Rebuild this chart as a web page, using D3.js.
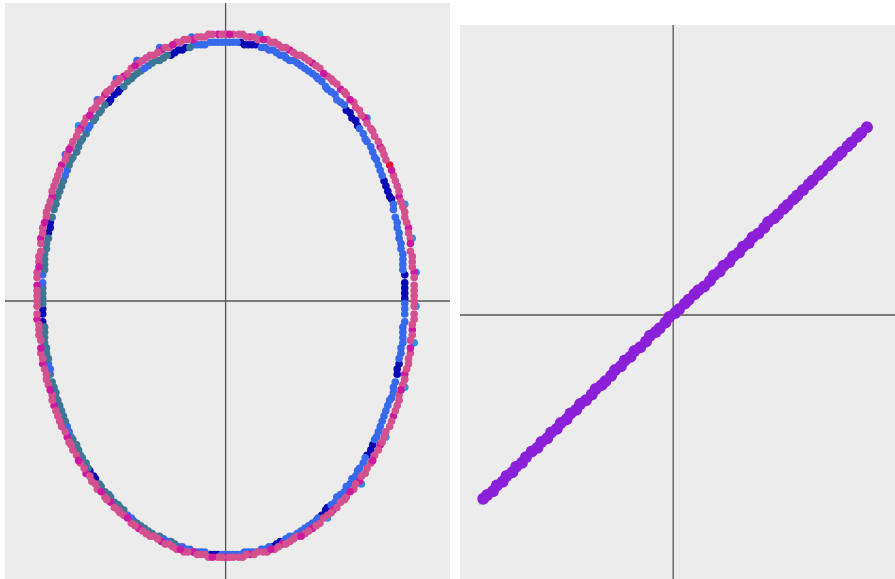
<!DOCTYPE html>
<html>
<head>
<meta charset="utf-8">
<script src="https://cdn.jsdelivr.net/npm/d3@7"></script>
<style>
  body { margin: 0; background: #fff; }
</style>
</head>
<body>
<div id="chart"></div>
<script>
// series names and colours (index = 3rd value of each point)
var seriesNames = ["pink", "magenta", "red", "sky", "royal", "steel", "navy"];
var seriesColors = ["#d4508e", "#cc1aa0", "#e8112d", "#2a92ea", "#3769eb", "#3c7896", "#0a0ab4"];

// left plot: outer ring [x, y, series]
var outerRingA = [
  [1.00,0.02,0],[1.00,0.06,0],[1.00,0.11,1],[0.99,0.15,0],[0.98,0.19,0],[0.98,0.24,0],[0.97,0.28,1],[0.95,0.32,0],[0.94,0.36,0],[0.92,0.40,1],
  [0.91,0.44,0],[0.89,0.48,0],[0.87,0.52,2],[0.84,0.56,0],[0.82,0.59,1],[0.79,0.63,0],[0.77,0.66,0],[0.74,0.70,1],[0.71,0.73,0],[0.68,0.76,0],
  [0.64,0.79,0],[0.61,0.81,1],[0.57,0.84,0],[0.54,0.86,0],[0.50,0.89,0],[0.46,0.91,1],[0.42,0.93,0],[0.38,0.94,0],[0.34,0.96,1],[0.30,0.97,0],
  [0.26,0.99,0],[0.22,1.00,0],[0.17,1.00,0],[0.13,1.01,1],[0.09,1.02,0],[0.04,1.02,0],
  [0.00,1.02,0],[-0.04,1.02,1],[-0.09,1.02,0],[-0.13,1.01,0],[-0.17,1.00,1],[-0.22,1.00,0],[-0.26,0.99,0],[-0.30,0.97,0],[-0.34,0.96,1],[-0.38,0.94,0],
  [-0.42,0.93,0],[-0.46,0.91,0],[-0.50,0.89,0],[-0.54,0.86,1],[-0.57,0.84,0],[-0.61,0.81,0],[-0.64,0.79,1],[-0.68,0.76,0],[-0.71,0.73,0],[-0.74,0.70,0],
  [-0.77,0.66,1],[-0.79,0.63,0],[-0.82,0.59,0],[-0.84,0.56,0],[-0.87,0.52,1],[-0.89,0.48,0],[-0.91,0.44,0],[-0.92,0.40,1],[-0.94,0.36,0],[-0.95,0.32,0],
  [-0.97,0.28,0],[-0.98,0.24,1],[-0.98,0.19,0],[-0.99,0.15,0],[-1.00,0.11,0],[-1.00,0.06,1],
  [-1.00,0.02,0],[-1.00,-0.02,0],[-1.00,-0.07,1],[-0.99,-0.11,0],[-0.98,-0.15,0],[-0.98,-0.20,0],[-0.97,-0.24,1],[-0.95,-0.28,0],[-0.94,-0.32,0],[-0.92,-0.36,0],
  [-0.91,-0.40,1],[-0.89,-0.44,0],[-0.87,-0.48,0],[-0.84,-0.52,1],[-0.82,-0.55,0],[-0.79,-0.59,0],[-0.77,-0.62,0],[-0.74,-0.66,1],[-0.71,-0.69,0],[-0.68,-0.72,0],
  [-0.64,-0.75,0],[-0.61,-0.77,1],[-0.57,-0.80,0],[-0.54,-0.82,0],[-0.50,-0.85,0],[-0.46,-0.87,1],[-0.42,-0.89,0],[-0.38,-0.90,0],[-0.34,-0.92,1],[-0.30,-0.93,0],
  [-0.26,-0.95,0],[-0.22,-0.96,0],[-0.17,-0.96,1],[-0.13,-0.97,0],[-0.09,-0.98,0],[-0.04,-0.98,0],
  [0.00,-0.98,1],[0.04,-0.98,0],[0.09,-0.98,0],[0.13,-0.97,1],[0.17,-0.96,0],[0.22,-0.96,0],[0.26,-0.95,0],[0.30,-0.93,1],[0.34,-0.92,0],[0.38,-0.90,0],
  [0.42,-0.89,0],[0.46,-0.87,1],[0.50,-0.85,0],[0.54,-0.82,0],[0.57,-0.80,1],[0.61,-0.77,0],[0.64,-0.75,0],[0.68,-0.72,0],[0.71,-0.69,1],[0.74,-0.66,0],
  [0.77,-0.62,0],[0.79,-0.59,0],[0.82,-0.55,1],[0.84,-0.52,0],[0.87,-0.48,0],[0.89,-0.44,1],[0.91,-0.40,0],[0.92,-0.36,0],[0.94,-0.32,0],[0.95,-0.28,1],
  [0.97,-0.24,0],[0.98,-0.20,0],[0.98,-0.15,0],[0.99,-0.11,1],[1.00,-0.07,0],[1.00,-0.02,0]
];
var outerRingB = [
  [1.00,0.04,0],[1.00,0.09,0],[0.99,0.13,0],[0.99,0.17,0],[0.98,0.22,1],[0.97,0.26,0],[0.96,0.30,0],[0.95,0.34,0],[0.93,0.38,0],[0.92,0.42,0],
  [0.90,0.46,0],[0.88,0.50,1],[0.85,0.54,0],[0.83,0.58,0],[0.81,0.61,0],[0.78,0.65,0],[0.75,0.68,0],[0.72,0.71,0],[0.69,0.74,0],[0.66,0.77,1],
  [0.63,0.80,0],[0.59,0.83,0],[0.56,0.85,0],[0.52,0.87,1],[0.48,0.90,0],[0.44,0.92,0],[0.40,0.94,0],[0.36,0.95,0],[0.32,0.97,0],[0.28,0.98,0],
  [0.24,0.99,0],[0.20,1.00,1],[0.15,1.01,0],[0.11,1.01,0],[0.07,1.02,0],[0.02,1.02,1],
  [-0.02,1.02,0],[-0.07,1.02,0],[-0.11,1.01,0],[-0.15,1.01,0],[-0.20,1.00,0],[-0.24,0.99,0],[-0.28,0.98,1],[-0.32,0.97,0],[-0.36,0.95,0],[-0.40,0.94,0],
  [-0.44,0.92,0],[-0.48,0.90,1],[-0.52,0.87,0],[-0.56,0.85,0],[-0.59,0.83,0],[-0.63,0.80,0],[-0.66,0.77,0],[-0.69,0.74,0],[-0.72,0.71,1],[-0.75,0.68,0],
  [-0.78,0.65,0],[-0.81,0.61,0],[-0.83,0.58,1],[-0.85,0.54,0],[-0.88,0.50,0],[-0.90,0.46,0],[-0.92,0.42,0],[-0.93,0.38,0],[-0.95,0.34,0],[-0.96,0.30,1],
  [-0.97,0.26,0],[-0.98,0.22,0],[-0.99,0.17,0],[-0.99,0.13,1],[-1.00,0.09,0],[-1.00,0.04,0],
  [-1.00,0.00,0],[-1.00,-0.05,0],[-0.99,-0.09,0],[-0.99,-0.13,0],[-0.98,-0.18,1],[-0.97,-0.22,0],[-0.96,-0.26,0],[-0.95,-0.30,0],[-0.93,-0.34,1],[-0.92,-0.38,0],
  [-0.90,-0.42,0],[-0.88,-0.46,0],[-0.85,-0.50,0],[-0.83,-0.54,0],[-0.81,-0.57,0],[-0.78,-0.61,1],[-0.75,-0.64,0],[-0.72,-0.67,0],[-0.69,-0.70,0],[-0.66,-0.73,1],
  [-0.63,-0.76,0],[-0.59,-0.79,0],[-0.56,-0.81,0],[-0.52,-0.83,1],[-0.48,-0.86,0],[-0.44,-0.88,0],[-0.40,-0.90,0],[-0.36,-0.91,0],[-0.32,-0.93,0],[-0.28,-0.94,0],
  [-0.24,-0.95,1],[-0.20,-0.96,0],[-0.15,-0.97,0],[-0.11,-0.97,0],[-0.07,-0.98,1],[-0.02,-0.98,0],
  [0.02,-0.98,0],[0.07,-0.98,0],[0.11,-0.97,0],[0.15,-0.97,0],[0.20,-0.96,0],[0.24,-0.95,1],[0.28,-0.94,0],[0.32,-0.93,0],[0.36,-0.91,0],[0.40,-0.90,1],
  [0.44,-0.88,0],[0.48,-0.86,0],[0.52,-0.83,0],[0.56,-0.81,0],[0.59,-0.79,0],[0.63,-0.76,0],[0.66,-0.73,1],[0.69,-0.70,0],[0.72,-0.67,0],[0.75,-0.64,0],
  [0.78,-0.61,1],[0.81,-0.57,0],[0.83,-0.54,0],[0.85,-0.50,0],[0.88,-0.46,0],[0.90,-0.42,0],[0.92,-0.38,0],[0.93,-0.34,1],[0.95,-0.30,0],[0.96,-0.26,0],
  [0.97,-0.22,0],[0.98,-0.18,1],[0.99,-0.13,0],[0.99,-0.09,0],[1.00,-0.05,0],[1.00,0.00,0]
];

// left plot: inner ring [x, y, series]
var innerRingA = [
  [0.95,0.01,6],[0.95,0.05,6],[0.95,0.10,6],[0.94,0.14,4],[0.94,0.18,4],[0.93,0.22,4],[0.92,0.26,4],[0.91,0.30,4],[0.89,0.35,4],[0.88,0.39,6],
  [0.86,0.42,6],[0.84,0.46,6],[0.82,0.50,4],[0.80,0.54,4],[0.78,0.57,4],[0.75,0.61,4],[0.73,0.64,4],[0.70,0.67,6],[0.67,0.70,6],[0.64,0.73,6],
  [0.61,0.76,4],[0.58,0.79,4],[0.54,0.81,4],[0.51,0.84,4],[0.48,0.86,4],[0.44,0.88,4],[0.40,0.90,4],[0.36,0.92,4],[0.32,0.93,4],[0.29,0.94,4],
  [0.25,0.96,4],[0.21,0.97,4],[0.16,0.98,6],[0.12,0.98,6],[0.08,0.99,6],[0.04,0.99,4],
  [0.00,0.99,4],[-0.04,0.99,4],[-0.08,0.99,4],[-0.13,0.98,4],[-0.17,0.98,4],[-0.21,0.97,6],[-0.25,0.96,6],[-0.29,0.94,6],[-0.33,0.93,5],[-0.37,0.92,5],
  [-0.41,0.90,4],[-0.45,0.88,5],[-0.49,0.86,5],[-0.52,0.84,5],[-0.56,0.81,6],[-0.59,0.79,6],[-0.62,0.76,6],[-0.66,0.73,5],[-0.69,0.70,5],[-0.72,0.67,4],
  [-0.74,0.64,5],[-0.77,0.61,5],[-0.79,0.57,5],[-0.82,0.54,5],[-0.84,0.50,4],[-0.86,0.46,5],[-0.88,0.42,5],[-0.90,0.39,5],[-0.91,0.35,5],[-0.93,0.30,6],
  [-0.94,0.26,6],[-0.95,0.22,5],[-0.96,0.18,5],[-0.96,0.14,5],[-0.97,0.10,4],[-0.97,0.05,5],
  [-0.97,0.01,5],[-0.97,-0.03,6],[-0.97,-0.08,6],[-0.96,-0.12,5],[-0.96,-0.16,5],[-0.95,-0.20,5],[-0.94,-0.24,4],[-0.93,-0.28,5],[-0.91,-0.33,5],[-0.90,-0.37,5],
  [-0.88,-0.40,5],[-0.86,-0.44,5],[-0.84,-0.48,4],[-0.82,-0.52,5],[-0.79,-0.55,5],[-0.77,-0.59,5],[-0.74,-0.62,5],[-0.72,-0.65,6],[-0.69,-0.68,6],[-0.66,-0.71,5],
  [-0.62,-0.74,5],[-0.59,-0.77,5],[-0.56,-0.79,5],[-0.52,-0.82,4],[-0.49,-0.84,5],[-0.45,-0.86,5],[-0.41,-0.88,5],[-0.37,-0.90,5],[-0.33,-0.91,4],[-0.29,-0.92,5],
  [-0.25,-0.94,4],[-0.21,-0.95,4],[-0.17,-0.96,4],[-0.13,-0.96,4],[-0.08,-0.97,6],[-0.04,-0.97,6],
  [0.00,-0.97,4],[0.04,-0.97,4],[0.08,-0.97,4],[0.12,-0.96,4],[0.16,-0.96,4],[0.21,-0.95,4],[0.25,-0.94,6],[0.29,-0.92,6],[0.32,-0.91,4],[0.36,-0.90,4],
  [0.40,-0.88,4],[0.44,-0.86,4],[0.48,-0.84,4],[0.51,-0.82,6],[0.54,-0.79,6],[0.58,-0.77,4],[0.61,-0.74,4],[0.64,-0.71,4],[0.67,-0.68,4],[0.70,-0.65,4],
  [0.73,-0.62,4],[0.75,-0.59,6],[0.78,-0.55,6],[0.80,-0.52,4],[0.82,-0.48,4],[0.84,-0.44,4],[0.86,-0.40,4],[0.88,-0.37,4],[0.89,-0.33,4],[0.91,-0.28,6],
  [0.92,-0.24,6],[0.93,-0.20,4],[0.94,-0.16,4],[0.94,-0.12,4],[0.95,-0.08,4],[0.95,-0.03,4]
];
var innerRingB = [
  [0.95,0.03,6],[0.95,0.07,6],[0.94,0.12,4],[0.94,0.16,4],[0.93,0.20,4],[0.92,0.24,4],[0.91,0.28,4],[0.90,0.32,4],[0.89,0.37,4],[0.87,0.40,6],
  [0.85,0.44,6],[0.83,0.48,4],[0.81,0.52,4],[0.79,0.55,4],[0.77,0.59,4],[0.74,0.62,4],[0.71,0.66,4],[0.69,0.69,6],[0.66,0.72,6],[0.63,0.75,4],
  [0.59,0.77,4],[0.56,0.80,4],[0.53,0.82,4],[0.49,0.85,4],[0.46,0.87,4],[0.42,0.89,4],[0.38,0.91,4],[0.34,0.92,4],[0.31,0.94,4],[0.27,0.95,4],
  [0.23,0.96,4],[0.19,0.97,4],[0.14,0.98,6],[0.10,0.98,6],[0.06,0.99,4],[0.02,0.99,4],
  [-0.02,0.99,4],[-0.06,0.99,4],[-0.11,0.98,4],[-0.15,0.98,4],[-0.19,0.97,5],[-0.23,0.96,6],[-0.27,0.95,6],[-0.31,0.94,5],[-0.35,0.92,5],[-0.39,0.91,5],
  [-0.43,0.89,4],[-0.47,0.87,5],[-0.50,0.85,5],[-0.54,0.82,5],[-0.57,0.80,6],[-0.61,0.77,6],[-0.64,0.75,5],[-0.67,0.72,5],[-0.70,0.69,5],[-0.73,0.66,4],
  [-0.76,0.62,5],[-0.78,0.59,5],[-0.81,0.55,5],[-0.83,0.52,5],[-0.85,0.48,4],[-0.87,0.44,5],[-0.89,0.40,5],[-0.90,0.37,5],[-0.92,0.32,5],[-0.93,0.28,6],
  [-0.94,0.24,5],[-0.95,0.20,5],[-0.96,0.16,5],[-0.96,0.12,5],[-0.97,0.07,4],[-0.97,0.03,5],
  [-0.97,-0.01,5],[-0.97,-0.05,6],[-0.96,-0.10,5],[-0.96,-0.14,5],[-0.95,-0.18,5],[-0.94,-0.22,5],[-0.93,-0.26,4],[-0.92,-0.31,5],[-0.90,-0.35,5],[-0.89,-0.38,5],
  [-0.87,-0.42,5],[-0.85,-0.46,5],[-0.83,-0.50,4],[-0.81,-0.53,5],[-0.78,-0.57,5],[-0.76,-0.60,5],[-0.73,-0.64,5],[-0.70,-0.67,6],[-0.67,-0.70,5],[-0.64,-0.73,5],
  [-0.61,-0.75,5],[-0.57,-0.78,5],[-0.54,-0.80,5],[-0.50,-0.83,4],[-0.47,-0.85,5],[-0.43,-0.87,5],[-0.39,-0.89,5],[-0.35,-0.90,5],[-0.31,-0.92,4],[-0.27,-0.93,5],
  [-0.23,-0.94,4],[-0.19,-0.95,4],[-0.15,-0.96,4],[-0.11,-0.96,4],[-0.06,-0.97,6],[-0.02,-0.97,4],
  [0.02,-0.97,4],[0.06,-0.97,4],[0.10,-0.96,4],[0.14,-0.96,4],[0.19,-0.95,4],[0.23,-0.94,4],[0.27,-0.93,6],[0.31,-0.92,4],[0.34,-0.90,4],[0.38,-0.89,4],
  [0.42,-0.87,4],[0.46,-0.85,4],[0.49,-0.83,4],[0.53,-0.80,6],[0.56,-0.78,4],[0.59,-0.75,4],[0.63,-0.73,4],[0.66,-0.70,4],[0.69,-0.67,4],[0.71,-0.64,4],
  [0.74,-0.60,4],[0.77,-0.57,6],[0.79,-0.53,4],[0.81,-0.50,4],[0.83,-0.46,4],[0.85,-0.42,4],[0.87,-0.38,4],[0.89,-0.35,4],[0.90,-0.31,4],[0.91,-0.26,6],
  [0.92,-0.22,4],[0.93,-0.18,4],[0.94,-0.14,4],[0.94,-0.10,4],[0.95,-0.05,4],[0.95,-0.01,4]
];

// a few points that peek out just outside the outer ring
var edgePoints = [
  [-0.18,1.01,4],[-0.35,0.97,4],[-0.47,0.92,4],[-0.58,0.85,4],[-0.68,0.77,4],[-0.78,0.67,3],[-0.85,0.56,4],
  [0.95,0.37,3],[0.99,0.24,3],[1.01,0.11,3],[1.01,-0.02,3],[1.00,-0.16,3],[0.95,-0.33,3],[0.85,-0.52,3],
  [0.72,-0.70,3],[0.54,-0.83,3],[0.75,0.70,3],[0.18,1.02,3]
];

// right plot: points along the diagonal
var lineX = [-0.98,-0.96,-0.93,-0.91,-0.88,-0.86,-0.83,-0.81,-0.78,-0.76,
  -0.73,-0.70,-0.68,-0.65,-0.63,-0.60,-0.58,-0.55,-0.53,-0.50,
  -0.48,-0.45,-0.42,-0.40,-0.37,-0.35,-0.32,-0.30,-0.27,-0.25,
  -0.22,-0.20,-0.17,-0.14,-0.12,-0.09,-0.07,-0.04,-0.02,0.01,
  0.03,0.06,0.08,0.11,0.13,0.16,0.19,0.21,0.24,0.26,
  0.29,0.31,0.34,0.36,0.39,0.41,0.44,0.47,0.49,0.52,
  0.54,0.57,0.59,0.62,0.64,0.67,0.70,0.72,0.75,0.77,
  0.80,0.82,0.85,0.87,0.90,0.92,0.95,0.97,1.00];
var lineY = [-0.97,-0.95,-0.93,-0.90,-0.88,-0.85,-0.83,-0.80,-0.78,-0.75,
  -0.72,-0.70,-0.67,-0.65,-0.62,-0.60,-0.57,-0.55,-0.52,-0.50,
  -0.47,-0.45,-0.42,-0.39,-0.37,-0.35,-0.32,-0.29,-0.27,-0.24,
  -0.22,-0.19,-0.17,-0.14,-0.11,-0.09,-0.07,-0.04,-0.01,0.01,
  0.03,0.06,0.08,0.11,0.13,0.15,0.18,0.21,0.23,0.26,
  0.28,0.31,0.33,0.36,0.38,0.41,0.43,0.46,0.49,0.51,
  0.53,0.56,0.58,0.61,0.63,0.66,0.69,0.71,0.74,0.76,
  0.79,0.81,0.84,0.86,0.89,0.91,0.94,0.96,0.99];
// reference diagonal (dashed green)
var guideX = [-1.00, 1.01];
var guideY = [-1.00, 1.01];

var W = 895, H = 579;
var svg = d3.select("#chart").append("svg")
    .attr("width", W)
    .attr("height", H);

var color = d3.scaleOrdinal().domain(d3.range(seriesNames.length)).range(seriesColors);

// ---- left panel
var x1 = d3.scaleLinear().domain([-1.17, 1.19]).range([5, 450]);
var y1 = d3.scaleLinear().domain([-1.14, 1.14]).range([599, 3]);

var left = svg.append("g");
left.append("rect")
    .attr("x", x1.range()[0]).attr("y", y1.range()[1])
    .attr("width", x1.range()[1] - x1.range()[0])
    .attr("height", y1.range()[0] - y1.range()[1])
    .attr("fill", "#ececec");
left.append("line")
    .attr("x1", x1(0)).attr("x2", x1(0))
    .attr("y1", y1.range()[1]).attr("y2", y1.range()[0])
    .attr("stroke", "#555").attr("stroke-width", 1.3);
left.append("line")
    .attr("x1", x1.range()[0]).attr("x2", x1.range()[1])
    .attr("y1", y1(0)).attr("y2", y1(0))
    .attr("stroke", "#555").attr("stroke-width", 1.3);

[edgePoints, innerRingA, innerRingB, outerRingA, outerRingB].forEach(function(set) {
  left.append("g").selectAll("circle")
      .data(set)
      .enter()
      .append("circle")
      .attr("cx", function(d) { return x1(d[0]); })
      .attr("cy", function(d) { return y1(d[1]); })
      .attr("r", 3.8)
      .style("fill", function(d) { return color(d[2]); });
});

// ---- right panel
var x2 = d3.scaleLinear().domain([-1.1, 1.15]).range([460, 896]);
var y2 = d3.scaleLinear().domain([-1.53, 1.53]).range([605, 25]);

var right = svg.append("g");
right.append("rect")
    .attr("x", x2.range()[0]).attr("y", y2.range()[1])
    .attr("width", x2.range()[1] - x2.range()[0])
    .attr("height", y2.range()[0] - y2.range()[1])
    .attr("fill", "#ececec");
right.append("line")
    .attr("x1", x2(0)).attr("x2", x2(0))
    .attr("y1", y2.range()[1]).attr("y2", y2.range()[0])
    .attr("stroke", "#555").attr("stroke-width", 1.3);
right.append("line")
    .attr("x1", x2.range()[0]).attr("x2", x2.range()[1])
    .attr("y1", y2(0)).attr("y2", y2(0))
    .attr("stroke", "#555").attr("stroke-width", 1.3);

right.append("path")
    .datum(d3.zip(guideX, guideY))
    .attr("d", d3.line().x(function(d) { return x2(d[0]); }).y(function(d) { return y2(d[1]); }))
    .attr("fill", "none")
    .attr("stroke", "#8fe08f")
    .attr("stroke-width", 3)
    .attr("stroke-dasharray", "8,5");

right.append("g").selectAll("circle")
    .data(d3.zip(lineX, lineY))
    .enter()
    .append("circle")
    .attr("cx", function(d) { return x2(d[0]); })
    .attr("cy", function(d) { return y2(d[1]); })
    .attr("r", 6)
    .style("fill", "#8b20d9");
</script>
</body>
</html>
